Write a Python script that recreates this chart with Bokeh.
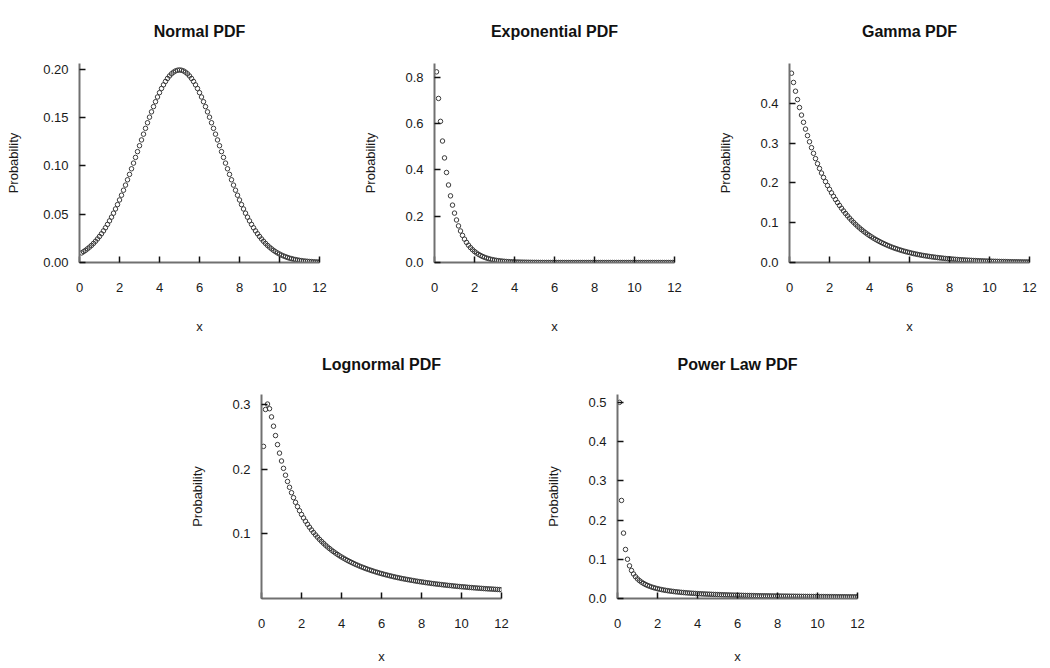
from bokeh.plotting import figure
from bokeh.layouts import column, row, Spacer
from bokeh.models import Range1d, FixedTicker, PrintfTickFormatter
from bokeh.embed import file_html
from bokeh.resources import INLINE

# ---------------- data ----------------
x_vals = [
    0.1, 0.2, 0.3, 0.4, 0.5, 0.6, 0.7, 0.8, 0.9, 1.0,
    1.1, 1.2, 1.3, 1.4, 1.5, 1.6, 1.7, 1.8, 1.9, 2.0,
    2.1, 2.2, 2.3, 2.4, 2.5, 2.6, 2.7, 2.8, 2.9, 3.0,
    3.1, 3.2, 3.3, 3.4, 3.5, 3.6, 3.7, 3.8, 3.9, 4.0,
    4.1, 4.2, 4.3, 4.4, 4.5, 4.6, 4.7, 4.8, 4.9, 5.0,
    5.1, 5.2, 5.3, 5.4, 5.5, 5.6, 5.7, 5.8, 5.9, 6.0,
    6.1, 6.2, 6.3, 6.4, 6.5, 6.6, 6.7, 6.8, 6.9, 7.0,
    7.1, 7.2, 7.3, 7.4, 7.5, 7.6, 7.7, 7.8, 7.9, 8.0,
    8.1, 8.2, 8.3, 8.4, 8.5, 8.6, 8.7, 8.8, 8.9, 9.0,
    9.1, 9.2, 9.3, 9.4, 9.5, 9.6, 9.7, 9.8, 9.9, 10.0,
    10.1, 10.2, 10.3, 10.4, 10.5, 10.6, 10.7, 10.8, 10.9, 11.0,
    11.1, 11.2, 11.3, 11.4, 11.5, 11.6, 11.7, 11.8, 11.9, 12.0,
]

normal_pdf = [
    0.0099, 0.0112, 0.0126, 0.0142, 0.0159, 0.0177, 0.0198, 0.0220, 0.0244, 0.0270,
    0.0298, 0.0328, 0.0360, 0.0395, 0.0431, 0.0470, 0.0511, 0.0555, 0.0600, 0.0648,
    0.0697, 0.0749, 0.0802, 0.0857, 0.0913, 0.0971, 0.1030, 0.1089, 0.1149, 0.1210,
    0.1270, 0.1330, 0.1390, 0.1448, 0.1506, 0.1561, 0.1615, 0.1666, 0.1715, 0.1760,
    0.1803, 0.1841, 0.1876, 0.1907, 0.1933, 0.1955, 0.1972, 0.1985, 0.1992, 0.1995,
    0.1992, 0.1985, 0.1972, 0.1955, 0.1933, 0.1907, 0.1876, 0.1841, 0.1803, 0.1760,
    0.1715, 0.1666, 0.1615, 0.1561, 0.1506, 0.1448, 0.1390, 0.1330, 0.1270, 0.1210,
    0.1149, 0.1089, 0.1030, 0.0971, 0.0913, 0.0857, 0.0802, 0.0749, 0.0697, 0.0648,
    0.0600, 0.0555, 0.0511, 0.0470, 0.0431, 0.0395, 0.0360, 0.0328, 0.0298, 0.0270,
    0.0244, 0.0220, 0.0198, 0.0177, 0.0159, 0.0142, 0.0126, 0.0112, 0.0099, 0.0088,
    0.0077, 0.0068, 0.0060, 0.0052, 0.0045, 0.0040, 0.0034, 0.0030, 0.0026, 0.0022,
    0.0019, 0.0016, 0.0014, 0.0012, 0.0010, 0.0009, 0.0007, 0.0006, 0.0005, 0.0004,
]

exponential_pdf = [
    0.824, 0.709, 0.610, 0.525, 0.452, 0.389, 0.335, 0.288, 0.248, 0.2135,
    0.1838, 0.1582, 0.1362, 0.1172, 0.1009, 0.0868, 0.0747, 0.0643, 0.0554, 0.0476,
    0.0410, 0.0353, 0.0304, 0.0261, 0.0225, 0.0194, 0.0167, 0.0143, 0.0123, 0.0106,
    0.0091, 0.0079, 0.0068, 0.0058, 0.0050, 0.0043, 0.0037, 0.0032, 0.0028, 0.0024,
    0.0020, 0.0018, 0.0015, 0.0013, 0.0011, 0.0010, 0.0008, 0.0007, 0.0006, 0.0005,
    0.0005, 0.0004, 0.0003, 0.0003, 0.0002, 0.0002, 0.0002, 0.0001, 0.0001, 0.0001,
    0.0001, 0.0001, 0.0001, 0.0001, 0.0001, 0.0, 0.0, 0.0, 0.0, 0.0,
    0.0, 0.0, 0.0, 0.0, 0.0, 0.0, 0.0, 0.0, 0.0, 0.0,
    0.0, 0.0, 0.0, 0.0, 0.0, 0.0, 0.0, 0.0, 0.0, 0.0,
    0.0, 0.0, 0.0, 0.0, 0.0, 0.0, 0.0, 0.0, 0.0, 0.0,
    0.0, 0.0, 0.0, 0.0, 0.0, 0.0, 0.0, 0.0, 0.0, 0.0,
    0.0, 0.0, 0.0, 0.0, 0.0, 0.0, 0.0, 0.0, 0.0, 0.0,
]

gamma_pdf = [
    0.4756, 0.4524, 0.4304, 0.4094, 0.3894, 0.3704, 0.3523, 0.3352, 0.3188, 0.3033,
    0.2885, 0.2744, 0.2610, 0.2483, 0.2362, 0.2247, 0.2137, 0.2033, 0.1934, 0.1839,
    0.1750, 0.1664, 0.1583, 0.1506, 0.1433, 0.1363, 0.1296, 0.1233, 0.1173, 0.1116,
    0.1061, 0.1010, 0.0960, 0.0913, 0.0869, 0.0826, 0.0786, 0.0748, 0.0711, 0.0677,
    0.0644, 0.0612, 0.0582, 0.0554, 0.0527, 0.0501, 0.0477, 0.0454, 0.0431, 0.0410,
    0.0390, 0.0371, 0.0353, 0.0336, 0.0320, 0.0304, 0.0289, 0.0275, 0.0262, 0.0249,
    0.0237, 0.0225, 0.0214, 0.0204, 0.0194, 0.0184, 0.0175, 0.0167, 0.0159, 0.0151,
    0.0144, 0.0137, 0.0130, 0.0124, 0.0118, 0.0112, 0.0106, 0.0101, 0.0096, 0.0092,
    0.0087, 0.0083, 0.0079, 0.0075, 0.0071, 0.0068, 0.0065, 0.0061, 0.0058, 0.0056,
    0.0053, 0.0050, 0.0048, 0.0045, 0.0043, 0.0041, 0.0039, 0.0037, 0.0035, 0.0034,
    0.0032, 0.0030, 0.0029, 0.0028, 0.0026, 0.0025, 0.0024, 0.0023, 0.0021, 0.0020,
    0.0019, 0.0018, 0.0018, 0.0017, 0.0016, 0.0015, 0.0014, 0.0014, 0.0013, 0.0012,
]

lognormal_pdf = [
    0.2356, 0.2928, 0.3012, 0.2940, 0.2813, 0.2669, 0.2524, 0.2384, 0.2252, 0.2130,
    0.2016, 0.1910, 0.1813, 0.1723, 0.1639, 0.1562, 0.1490, 0.1423, 0.1360, 0.1302,
    0.1248, 0.1197, 0.1149, 0.1104, 0.1062, 0.1022, 0.0985, 0.0950, 0.0916, 0.0885,
    0.0855, 0.0826, 0.0799, 0.0774, 0.0749, 0.0726, 0.0704, 0.0683, 0.0662, 0.0643,
    0.0625, 0.0607, 0.0590, 0.0574, 0.0559, 0.0544, 0.0529, 0.0516, 0.0502, 0.0490,
    0.0478, 0.0466, 0.0454, 0.0444, 0.0433, 0.0423, 0.0413, 0.0404, 0.0394, 0.0386,
    0.0377, 0.0369, 0.0361, 0.0353, 0.0346, 0.0338, 0.0331, 0.0324, 0.0318, 0.0311,
    0.0305, 0.0299, 0.0293, 0.0288, 0.0282, 0.0277, 0.0271, 0.0266, 0.0261, 0.0257,
    0.0252, 0.0247, 0.0243, 0.0239, 0.0234, 0.0230, 0.0226, 0.0222, 0.0219, 0.0215,
    0.0211, 0.0208, 0.0204, 0.0201, 0.0198, 0.0194, 0.0191, 0.0188, 0.0185, 0.0182,
    0.0180, 0.0177, 0.0174, 0.0171, 0.0169, 0.0166, 0.0164, 0.0161, 0.0159, 0.0157,
    0.0154, 0.0152, 0.0150, 0.0148, 0.0146, 0.0144, 0.0142, 0.0140, 0.0138, 0.0136,
]

power_law_pdf = [
    0.5000, 0.2500, 0.1667, 0.1250, 0.1000, 0.0833, 0.0714, 0.0625, 0.0556, 0.0500,
    0.0455, 0.0417, 0.0385, 0.0357, 0.0333, 0.0313, 0.0294, 0.0278, 0.0263, 0.0250,
    0.0238, 0.0227, 0.0217, 0.0208, 0.0200, 0.0192, 0.0185, 0.0179, 0.0172, 0.0167,
    0.0161, 0.0156, 0.0152, 0.0147, 0.0143, 0.0139, 0.0135, 0.0132, 0.0128, 0.0125,
    0.0122, 0.0119, 0.0116, 0.0114, 0.0111, 0.0109, 0.0106, 0.0104, 0.0102, 0.0100,
    0.0098, 0.0096, 0.0094, 0.0093, 0.0091, 0.0089, 0.0088, 0.0086, 0.0085, 0.0083,
    0.0082, 0.0081, 0.0079, 0.0078, 0.0077, 0.0076, 0.0075, 0.0074, 0.0072, 0.0071,
    0.0070, 0.0069, 0.0068, 0.0068, 0.0067, 0.0066, 0.0065, 0.0064, 0.0063, 0.0063,
    0.0062, 0.0061, 0.0060, 0.0060, 0.0059, 0.0058, 0.0057, 0.0057, 0.0056, 0.0056,
    0.0055, 0.0054, 0.0054, 0.0053, 0.0053, 0.0052, 0.0052, 0.0051, 0.0051, 0.0050,
    0.0050, 0.0049, 0.0049, 0.0048, 0.0048, 0.0047, 0.0047, 0.0046, 0.0046, 0.0045,
    0.0045, 0.0045, 0.0044, 0.0044, 0.0043, 0.0043, 0.0043, 0.0042, 0.0042, 0.0042,
]

titles = ["Normal PDF", "Exponential PDF", "Gamma PDF", "Lognormal PDF", "Power Law PDF"]
x_ticks = [0, 2, 4, 6, 8, 10, 12]
normal_ticks = [0.0, 0.05, 0.10, 0.15, 0.20]
exponential_ticks = [0.0, 0.2, 0.4, 0.6, 0.8]
gamma_ticks = [0.0, 0.1, 0.2, 0.3, 0.4]
lognormal_ticks = [0.1, 0.2, 0.3]
power_law_ticks = [0.0, 0.1, 0.2, 0.3, 0.4, 0.5]

FONT = "Liberation Sans"


def make_panel(title, ys, y_end, yticks, yfmt, width, height, top, bottom, right,
               title_standoff, ylab_standoff, xlab_standoff):
    p = figure(output_backend="svg", toolbar_location=None,
               width=width, height=height,
               x_range=Range1d(0, 12), y_range=Range1d(0, y_end),
               min_border_left=79, min_border_right=right,
               min_border_top=top, min_border_bottom=bottom,
               title=title)
    p.title.align = "center"
    p.title.vertical_align = "top"
    p.title.text_font = FONT
    p.title.text_font_size = "16px"
    p.title.text_font_style = "bold"
    p.title.text_color = "#111111"
    p.title.standoff = title_standoff

    p.scatter(x_vals, ys, marker="circle", size=4.5, fill_color=None,
              line_color="#3a3a3a", line_width=1)

    p.outline_line_color = None
    p.grid.visible = False
    p.background_fill_color = "white"
    p.border_fill_color = "white"

    for ax in (p.xaxis[0], p.yaxis[0]):
        ax.axis_line_color = "#707070"
        ax.axis_line_width = 2
        ax.major_tick_in = 6
        ax.major_tick_out = 0
        ax.minor_tick_in = 0
        ax.minor_tick_out = 0
        ax.major_tick_line_color = "#111111"
        ax.major_tick_line_width = 1.5
        ax.major_label_text_font = FONT
        ax.major_label_text_font_size = "13px"
        ax.major_label_text_color = "#1a1a1a"
        ax.axis_label_text_font = FONT
        ax.axis_label_text_font_size = "13px"
        ax.axis_label_text_font_style = "normal"
        ax.axis_label_text_color = "#1a1a1a"

    p.xaxis.ticker = FixedTicker(ticks=x_ticks)
    p.xaxis.major_label_standoff = 20
    p.xaxis.axis_label = "x"
    p.xaxis.axis_label_standoff = xlab_standoff

    p.yaxis.ticker = FixedTicker(ticks=yticks)
    p.yaxis.formatter = PrintfTickFormatter(format=yfmt)
    p.yaxis.major_label_standoff = 11
    p.yaxis.axis_label = "Probability"
    p.yaxis.axis_label_standoff = ylab_standoff
    return p


# top row: frames at y 62..262, bottom row: frames at y 393..598 (page px)
p_norm = make_panel(titles[0], normal_pdf, 0.2062, normal_ticks, "%.2f", 355, 336, 62, 74, 36, 44, 19, 24)
p_exp = make_panel(titles[1], exponential_pdf, 0.86, exponential_ticks, "%.1f", 355, 336, 62, 74, 36, 44, 24, 24)
p_gam = make_panel(titles[2], gamma_pdf, 0.5, gamma_ticks, "%.1f", 335, 336, 62, 74, 16, 44, 24, 24)
p_log = make_panel(titles[3], lognormal_pdf, 0.316, lognormal_ticks, "%.1f", 356, 331, 57, 69, 37, 39, 24, 18)
p_pow = make_panel(titles[4], power_law_pdf, 0.52, power_law_ticks, "%.1f", 335, 331, 57, 69, 16, 39, 24, 18)

layout = column(
    row(p_norm, p_exp, p_gam),
    row(Spacer(width=182, height=331), p_log, p_pow),
)

open("out.html", "w").write(file_html(layout, INLINE))
